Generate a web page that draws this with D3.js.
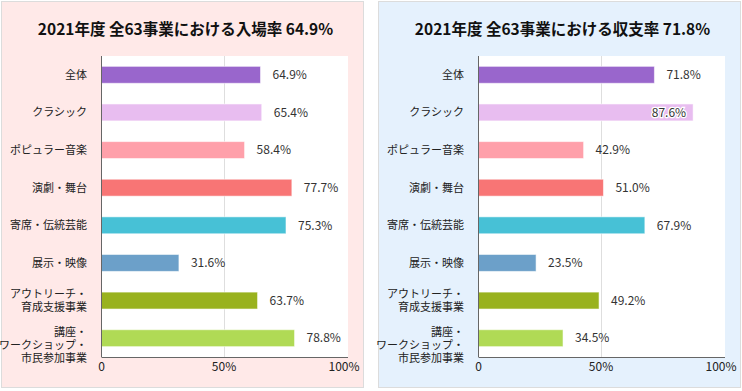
<!DOCTYPE html>
<html>
<head>
<meta charset="utf-8">
<script src="https://cdn.jsdelivr.net/npm/d3@7"></script>
<style>
  body { margin: 0; background: #fff; }
  svg { display: block; font-family: "Noto Sans CJK JP", "Noto Sans", sans-serif; }
</style>
</head>
<body>
<svg id="chart" width="742" height="391"></svg>
<script>
// data
const categories = ["全体", "クラシック", "ポピュラー音楽", "演劇・舞台", "寄席・伝統芸能",
  "展示・映像", "アウトリーチ・\n育成支援事業", "講座・\nワークショップ・\n市民参加事業"];
const barColors = ["#9966cc", "#e8bdf0", "#ffa0aa", "#f87575", "#47c1d6", "#6ca0c9", "#99b21e", "#b0da55"];
const attendance = [64.9, 65.4, 58.4, 77.7, 75.3, 31.6, 63.7, 78.8];
const balance    = [71.8, 87.6, 42.9, 51.0, 67.9, 23.5, 49.2, 34.5];
const tickValues = [0, 50, 100];
const tickLabels = ["0", "50%", "100%"];

const panels = [
  { title: "2021年度 全63事業における入場率 64.9%", values: attendance, bg: "#ffe9e8", x0: 1 },
  { title: "2021年度 全63事業における収支率 71.8%", values: balance,    bg: "#e5f1fd", x0: 378 }
];

const svg = d3.select("#chart");
const panelW = 363, panelH = 387;
const plot = { left: 100.5, right: 345.5, top: 56, bottom: 357 };

panels.forEach(p => {
  const g = svg.append("g").attr("transform", `translate(${p.x0},0)`);

  // panel background
  g.append("rect")
    .attr("x", 0.5).attr("y", 1.5)
    .attr("width", panelW - 1).attr("height", panelH - 1)
    .attr("fill", p.bg).attr("stroke", "#dcdcdc");

  // title
  g.append("text")
    .attr("x", panelW / 2 + 3).attr("y", 35)
    .attr("text-anchor", "middle")
    .style("font-size", "15.5px").style("font-weight", "bold")
    .attr("fill", "#111")
    .text(p.title);

  const x = d3.scaleLinear().domain([0, 100]).range([plot.left, plot.right]);
  const y = d3.scaleBand().domain(categories)
    .range([plot.top, plot.bottom])
    .paddingInner(0.55).paddingOuter(0.275);

  // white plot area
  g.append("rect")
    .attr("x", plot.left).attr("y", plot.top)
    .attr("width", plot.right + 1.5 - plot.left).attr("height", plot.bottom - plot.top)
    .attr("fill", "#fff");

  // grid
  g.append("g").selectAll("line")
    .data([50])
    .enter().append("line")
      .attr("x1", d => Math.round(x(d)) + 0.5).attr("x2", d => Math.round(x(d)) + 0.5)
      .attr("y1", plot.top).attr("y2", plot.bottom)
      .attr("stroke", "#dedede");

  // bars
  g.append("g").selectAll("rect")
    .data(categories)
    .enter().append("rect")
      .attr("x", x(0))
      .attr("y", d => y(d))
      .attr("width", (d, i) => x(p.values[i]) - x(0))
      .attr("height", y.bandwidth())
      .attr("fill", (d, i) => barColors[i])
      .attr("stroke", "rgba(255,255,255,0.55)")
      .attr("stroke-width", 1);

  // axis lines
  g.append("line")
    .attr("x1", plot.left).attr("x2", plot.left)
    .attr("y1", plot.top).attr("y2", plot.bottom)
    .attr("stroke", "#666");
  g.append("line")
    .attr("x1", plot.left).attr("x2", plot.right + 1.5)
    .attr("y1", plot.bottom + 0.5).attr("y2", plot.bottom + 0.5)
    .attr("stroke", "#666");

  // value labels (inside the bar when no room outside)
  const vals = g.append("g");
  categories.forEach((c, i) => {
    const end = x(p.values[i]);
    const label = p.values[i].toFixed(1) + "%";
    const inside = end + 12 + 34 > plot.right;
    const t = vals.append("text")
      .attr("y", y(c) + y.bandwidth() / 2)
      .attr("dy", "0.35em")
      .style("font-size", "12px")
      .attr("fill", "#333")
      .text(label);
    if (inside) {
      t.attr("x", end - 7).attr("text-anchor", "end")
        .attr("stroke", "#fff").attr("stroke-width", 2.5)
        .attr("paint-order", "stroke");
    } else {
      t.attr("x", end + 12);
    }
  });

  // category labels
  const cats = g.append("g");
  categories.forEach(c => {
    const lines = c.split("\n");
    const cy = y(c) + y.bandwidth() / 2;
    const y0 = lines.length > 1 ? cy - 6.5 : cy;
    const t = cats.append("text")
      .attr("x", 86)
      .attr("text-anchor", "end")
      .style("font-size", "11px")
      .attr("fill", "#222");
    lines.forEach((l, k) => {
      t.append("tspan")
        .attr("x", 86)
        .attr("y", y0 + k * 13.3)
        .attr("dy", "0.35em")
        .text(l);
    });
  });

  // tick labels
  g.append("g").selectAll("text")
    .data(tickValues)
    .enter().append("text")
      .attr("x", d => Math.min(x(d), 343))
      .attr("y", 367)
      .attr("dy", "0.35em")
      .attr("text-anchor", "middle")
      .style("font-size", "12px")
      .attr("fill", "#222")
      .text((d, i) => tickLabels[i]);
});
</script>
</body>
</html>
